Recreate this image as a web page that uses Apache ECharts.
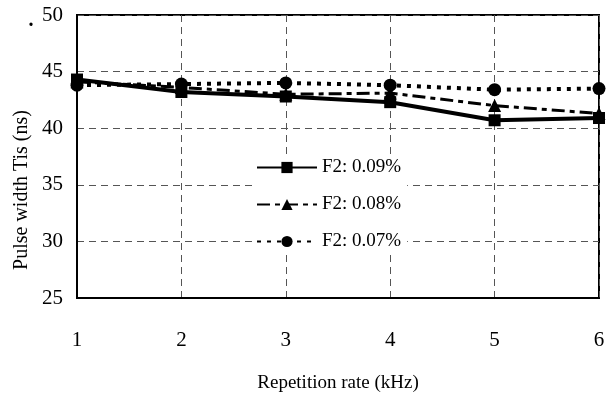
<!DOCTYPE html>
<html>
<head>
<meta charset="utf-8">
<script src="https://cdn.jsdelivr.net/npm/echarts@6/dist/echarts.min.js"></script>
<style>
  html, body { margin: 0; padding: 0; background: #fff; }
  #chart { width: 608px; height: 397px; }
</style>
</head>
<body>
<div id="chart"></div>
<script>
// Repetition rate (kHz) on the x axis
const repRates = [1, 2, 3, 4, 5, 6];
// Pulse width Tis (ns) for each F2 concentration
const f2_009 = [44.3, 43.2, 42.8, 42.3, 40.7, 40.9];
const f2_008 = [44.1, 43.6, 43.0, 43.1, 42.0, 41.3];
const f2_007 = [43.8, 43.9, 44.0, 43.8, 43.4, 43.5];
const seriesNames = ['F2: 0.09%', 'F2: 0.08%', 'F2: 0.07%'];
const yTicks = { min: 25, max: 50, step: 5 };

const serif = '"Liberation Serif", "Times New Roman", serif';
const pairs = vals => repRates.map((x, i) => [x, vals[i]]);

const chart = echarts.init(document.getElementById('chart'), null, { renderer: 'canvas' });
chart.setOption({
  animation: false,
  backgroundColor: '#fff',
  grid: {
    left: 77, right: 9, top: 15, bottom: 99,
    outerBoundsMode: 'none', containLabel: false,
    show: true, borderColor: '#000', borderWidth: 2, backgroundColor: 'transparent'
  },
  legend: {
    orient: 'vertical',
    left: 252,
    top: 154,
    itemWidth: 60,
    itemHeight: 14,
    itemGap: 18,
    padding: [4, 6, 4, 4],
    backgroundColor: '#fff',
    textStyle: { fontFamily: serif, fontSize: 19, color: '#000' },
    data: seriesNames
  },
  xAxis: {
    type: 'value',
    min: repRates[0],
    max: repRates[repRates.length - 1],
    interval: 1,
    name: 'Repetition rate (kHz)',
    nameLocation: 'middle',
    nameGap: 76,
    nameTextStyle: { fontFamily: serif, fontSize: 19, color: '#000' },
    axisLine: { lineStyle: { color: '#000', width: 2 } },
    axisTick: { show: false },
    axisLabel: { margin: 32, fontFamily: serif, fontSize: 21, color: '#000' },
    splitLine: { show: true, lineStyle: { color: '#555', type: [7, 5], width: 1 } }
  },
  yAxis: {
    type: 'value',
    min: yTicks.min,
    max: yTicks.max,
    interval: yTicks.step,
    axisLine: { show: true, lineStyle: { color: '#000', width: 2 } },
    axisTick: { show: false },
    axisLabel: { margin: 14, fontFamily: serif, fontSize: 21, color: '#000' },
    splitLine: { show: true, lineStyle: { color: '#555', type: [7, 5], width: 1 } }
  },
  graphic: [
    {
      type: 'text', x: 22, y: 190, rotation: Math.PI / 2,
      style: { text: 'Pulse width Tis (ns)', font: '20px ' + serif, fill: '#000', align: 'center', verticalAlign: 'middle' }
    },
    { type: 'text', x: 31, y: 31, style: { text: '.', font: 'bold 20px ' + serif, fill: '#000', align: 'center', verticalAlign: 'bottom' } }
  ],
  series: [
    {
      name: seriesNames[0], type: 'line', data: pairs(f2_009), z: 5,
      symbol: 'rect', symbolSize: 12,
      lineStyle: { color: '#000', width: 4, type: 'solid' },
      itemStyle: { color: '#000' }
    },
    {
      name: seriesNames[1], type: 'line', data: pairs(f2_008), z: 4,
      symbol: 'triangle', symbolSize: 13,
      lineStyle: { color: '#000', width: 3, type: [13, 5, 5, 5] },
      itemStyle: { color: '#000' }
    },
    {
      name: seriesNames[2], type: 'line', data: pairs(f2_007), z: 3,
      symbol: 'circle', symbolSize: 13,
      lineStyle: { color: '#000', width: 4, type: [4, 6] },
      itemStyle: { color: '#000' }
    }
  ]
});
</script>
</body>
</html>
